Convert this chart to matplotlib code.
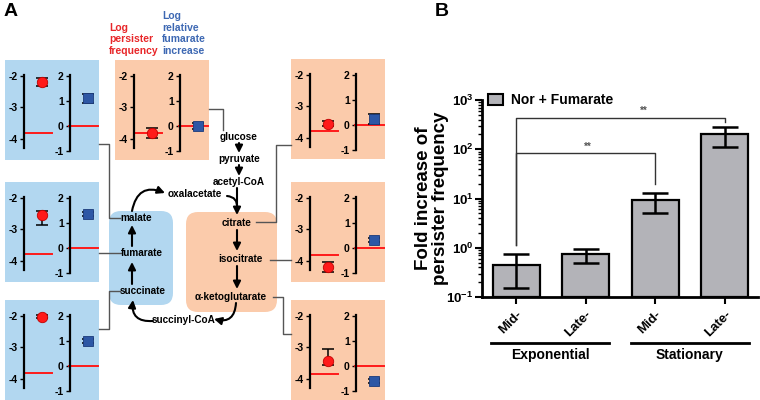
import numpy as np
import matplotlib
matplotlib.use('Agg')
import matplotlib.pyplot as plt
import matplotlib.transforms as mtransforms
from matplotlib.patches import Rectangle, FancyBboxPatch, Patch
from matplotlib.ticker import LogLocator, NullFormatter

plt.rcParams['font.family'] = ['Liberation Sans', 'DejaVu Sans']
plt.rcParams['font.weight'] = 'bold'

# ---- panel A data (log10 values) ----
metabolites = ['malate', 'fumarate', 'succinate', 'glucose',
               'citrate', 'isocitrate', 'a-ketoglutarate']
persister_ctrl = [-3.80, -3.78, -3.80, -3.80, -3.78, -3.80, -3.83]
persister_val = [-2.19, -2.55, -2.03, -3.80, -3.55, -4.18, -3.43]
persister_err_lo = [0.14, 0.30, 0.05, 0.16, 0.08, 0.16, 0.14]
persister_err_hi = [0.14, 0.15, 0.05, 0.16, 0.08, 0.16, 0.37]
fumarate_val = [1.10, 1.35, 1.00, 0.00, 0.22, 0.30, -0.60]
fumarate_err = [0.17, 0.07, 0.08, 0.12, 0.20, 0.08, 0.08]
fumarate_ctrl = [0, 0, 0, 0, 0, 0, 0]

# ---- panel B data ----
phases = ['Mid-', 'Late-', 'Mid-', 'Late-']
groups = ['Exponential', 'Stationary']
fold_increase = [0.45, 0.76, 9.5, 205]
fold_low = [0.155, 0.50, 5.1, 112]
fold_high = [0.76, 0.95, 13, 284]
sig_pairs = [(0, 3), (0, 2)]
sig_heights = [433, 85]
sig_drops = [360, 20]
sig_labels = ['**', '**']

W, H = 760, 400
BLUE_BG = '#b2d7f0'
ORANGE_BG = '#fbcbab'
RED = '#ff1a1a'
BLUE = '#2d57a5'
LINE = '#555555'

fig = plt.figure(figsize=(W / 100, H / 100), dpi=100)


def px_axes(x, y, w, h):
    return fig.add_axes([x / W, 1 - (y + h) / H, w / W, h / H])


bg = fig.add_axes([0, 0, 1, 1])
bg.set_xlim(0, W)
bg.set_ylim(H, 0)
bg.axis('off')

# boxes holding the mini charts
box_pos = [(5, 60, BLUE_BG), (5, 182, BLUE_BG), (5, 300, BLUE_BG),
           (115, 60, ORANGE_BG), (291, 59, ORANGE_BG),
           (291, 182, ORANGE_BG), (291, 300, ORANGE_BG)]
for bx, by, c in box_pos:
    bg.add_patch(Rectangle((bx, by), 94, 100, fc=c, ec='none', zorder=0))

bg.add_patch(FancyBboxPatch((109, 211), 64, 94, boxstyle='round,pad=0,rounding_size=12',
                            fc=BLUE_BG, ec='none', zorder=0))
bg.add_patch(FancyBboxPatch((186, 212), 91, 100, boxstyle='round,pad=0,rounding_size=12',
                            fc=ORANGE_BG, ec='none', zorder=0))

bg.text(4, 12, 'A', fontsize=14, fontweight='bold', va='center')
bg.text(435, 11, 'B', fontsize=14, fontweight='bold', va='center')
bg.text(109, 56, 'Log\npersister\nfrequency', color='#e8272a', fontsize=7.5,
        va='bottom', ha='left', linespacing=1.2)
bg.text(162, 56, 'Log\nrelative\nfumarate\nincrease', color='#3d68b3', fontsize=7.5,
        va='bottom', ha='left', linespacing=1.2)

# pathway labels
path_text = [('glucose', 239, 137), ('pyruvate', 239, 159), ('acetyl-CoA', 239, 182),
             ('oxalacetate', 195, 194), ('citrate', 237, 223), ('isocitrate', 240, 259),
             ('α-ketoglutarate', 231, 297), ('succinyl-CoA', 184, 320),
             ('malate', 136, 218), ('fumarate', 142, 253), ('succinate', 143, 291)]
for t, x, y in path_text:
    bg.text(x, y, t, fontsize=7.2, ha='center', va='center', zorder=3)

arrow_kw = dict(arrowstyle='-|>', color='k', lw=1.5, mutation_scale=11,
                shrinkA=0, shrinkB=0)
straight = [((239, 143), (239, 153)), ((239, 165), (239, 176)),
            ((237, 188), (237, 215)), ((237, 230), (237, 251)),
            ((237, 266), (237, 289)), ((132, 284), (132, 262)),
            ((132, 246), (132, 225))]
for a, b in straight:
    bg.annotate('', xy=b, xytext=a, arrowprops=arrow_kw)

curved = [((132, 211), (165, 193), -0.6), ((236, 303), (214, 319), -0.6),
          ((153, 321), (133, 300), -0.6)]
for a, b, r in curved:
    bg.annotate('', xy=b, xytext=a,
                arrowprops=dict(arrow_kw, connectionstyle=f'arc3,rad={r}'))
bg.annotate('', xy=(237, 208), xytext=(227, 196),
            arrowprops=dict(arrowstyle='-', color='k', lw=1.5, shrinkA=0, shrinkB=0,
                            connectionstyle='arc3,rad=-0.5'))

# connectors from mini charts to metabolites
connectors = [[(209, 109), (223, 109), (223, 130)],
              [(99, 144), (109, 144), (109, 218), (120, 218)],
              [(99, 253), (121, 253)],
              [(99, 329), (109, 329), (109, 291), (120, 291)],
              [(256, 222), (276, 222), (276, 145), (291, 145)],
              [(270, 260), (291, 260)],
              [(273, 297), (283, 297), (283, 334), (291, 334)]]
for pts in connectors:
    xs, ys = zip(*pts)
    bg.plot(xs, ys, color=LINE, lw=1, zorder=1)

# mini charts
for i, (bx, by, c) in enumerate(box_pos):
    axl = px_axes(bx + 19, by + 15, 32, (4.3 - 1.97) * 31.5)
    axl.set_ylim(-4.3, -1.97)
    axl.set_xlim(0, 1)
    axl.plot([0, 0.88], [persister_ctrl[i]] * 2, color=RED, lw=1.4, zorder=2)
    axl.errorbar([0.56], [persister_val[i]],
                 yerr=[[persister_err_lo[i]], [persister_err_hi[i]]],
                 fmt='none', ecolor='k', elinewidth=1.1, capsize=4.5, capthick=1.1,
                 zorder=3, clip_on=False)
    axl.plot([0.56], [persister_val[i]], 'o', color=RED, mec='#c00000', mew=0.6,
             ms=7.5, zorder=4, clip_on=False)
    axl.set_yticks([-2, -3, -4])
    axl.set_yticklabels(['-2', '-3', '-4'])

    axr = px_axes(bx + 65, by + 15, 32, 3.03 * 25)
    axr.set_ylim(-1, 2.03)
    axr.set_xlim(0, 1)
    axr.plot([-0.03, 0.88], [fumarate_ctrl[i]] * 2, color=RED, lw=1.4, zorder=2, clip_on=False)
    axr.errorbar([0.56], [fumarate_val[i]], yerr=[fumarate_err[i]],
                 fmt='none', ecolor='k', elinewidth=1.1, capsize=4.5, capthick=1.1,
                 zorder=3, clip_on=False)
    axr.plot([0.56], [fumarate_val[i]], 's', color=BLUE, mec='#1b3a7a', mew=0.6,
             ms=6.5, zorder=4, clip_on=False)
    axr.set_yticks([2, 1, 0, -1])
    axr.set_yticklabels(['2', '1', '0', '-1'])

    for a in (axl, axr):
        a.patch.set_alpha(0)
        for s in ('top', 'right', 'bottom'):
            a.spines[s].set_visible(False)
        a.spines['left'].set_linewidth(1.6)
        a.set_xticks([])
        a.tick_params(axis='y', length=3, width=1, pad=1.5, labelsize=7.5)

# ---- panel B ----
ax = px_axes(482, 100, 276, 197)
x = np.arange(len(phases))
vals = np.array(fold_increase)
lo = vals - np.array(fold_low)
hi = np.array(fold_high) - vals
ax.bar(x, vals - 0.1, bottom=0.1, width=0.675, color='#b3b3b8',
       edgecolor='k', linewidth=1.6, zorder=2)
ax.errorbar(x, vals, yerr=[lo, hi], fmt='none', ecolor='k', elinewidth=1.8,
            capsize=9.4, capthick=1.8, zorder=3)
ax.set_yscale('log')
ax.set_ylim(0.1, 1000)
ax.set_xlim(-0.49, 3.48)
ax.yaxis.set_minor_locator(LogLocator(base=10, subs=np.arange(2, 10)))
ax.yaxis.set_minor_formatter(NullFormatter())
ax.set_yticks([0.1, 1, 10, 100, 1000])
ax.set_yticklabels([r'$\mathdefault{10^{-1}}$', r'$\mathdefault{10^{0}}$',
                    r'$\mathdefault{10^{1}}$', r'$\mathdefault{10^{2}}$',
                    r'$\mathdefault{10^{3}}$'], fontsize=9.5, fontweight='bold')
ax.set_xticks(x)
ax.set_xticklabels(phases, rotation=45, ha='right', rotation_mode='anchor',
                   fontsize=9.5, fontweight='bold')
for s in ('top', 'right'):
    ax.spines[s].set_visible(False)
for s in ('left', 'bottom'):
    ax.spines[s].set_linewidth(2)
ax.tick_params(axis='y', which='major', length=5, width=1.5, pad=1)
ax.tick_params(axis='y', which='minor', length=3, width=1)
ax.tick_params(axis='x', length=5, width=1.5, pad=3)
ax.set_ylabel('Fold increase of\npersister frequency', fontsize=13.5, fontweight='bold',
              linespacing=1.0)
ax.yaxis.set_label_coords(-0.12, 0.5)

# significance brackets
for (a, b), h, d in zip(sig_pairs, sig_heights, sig_drops):
    ax.plot([a, a, b, b], [1.15, h, h, d], color='#333333', lw=1, zorder=1)
ax.text(1.84, 600, sig_labels[0], fontsize=7, color='#555555', ha='center', va='center')
ax.text(1.03, 112, sig_labels[1], fontsize=7, color='#555555', ha='center', va='center')

leg = ax.legend(handles=[Patch(fc='#b3b3b8', ec='k', lw=1.5)], labels=['Nor + Fumarate'],
                loc='center left', bbox_to_anchor=(0.02, 1.0), frameon=False,
                borderpad=0, borderaxespad=0, handlelength=1.15, handleheight=0.85,
                handletextpad=0.55, prop={'size': 10, 'weight': 'bold'})

trans = mtransforms.blended_transform_factory(ax.transData, ax.transAxes)
for g, (x0, x1) in zip(groups, [(-0.36, 1.34), (1.65, 3.35)]):
    ax.plot([x0, x1], [-0.2335, -0.2335], color='k', lw=2, transform=trans, clip_on=False)
    ax.text((x0 + x1) / 2, -0.294, g, fontsize=10, fontweight='bold', ha='center',
            va='center', transform=trans)

fig.savefig('out.png', dpi=100)
